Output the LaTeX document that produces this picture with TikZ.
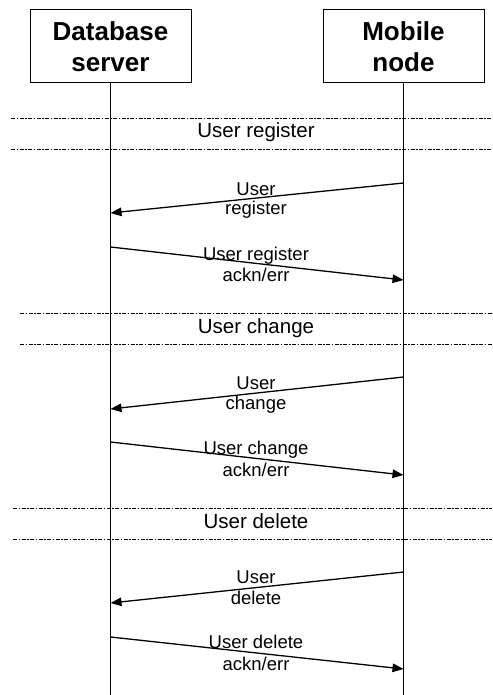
\documentclass[tikz,border=0pt]{standalone}
\usepackage{fontspec}
\setmainfont{Liberation Sans}
\usetikzlibrary{arrows.meta}

\begin{document}
\begin{tikzpicture}[x=1pt,y=-1pt,
  actor/.style={draw,line width=1pt,minimum width=161pt,minimum height=73pt,inner sep=0pt},
  head/.style={font=\fontsize{26}{28}\selectfont\bfseries,anchor=base,inner sep=0pt},
  lifeline/.style={line width=1.3pt},
  sep/.style={line width=0.9pt,dash pattern=on 4pt off 1.5pt on 1.5pt off 1.5pt},
  phase/.style={font=\fontsize{20.5}{22}\selectfont,anchor=base,inner sep=0pt},
  msg/.style={line width=1.3pt,-{Triangle[length=11pt,width=8.5pt]}},
  lbl/.style={font=\fontsize{18.5}{20}\selectfont,anchor=base,inner sep=0pt}]

\useasboundingbox (0,0) rectangle (492,695);

% participants
\node[actor] (db) at (110.5,46.5) {};
\node[actor] (mn) at (403.5,46.5) {};
\node[head] (dbA) at (110.5,41) {Database};
\node[head] (dbB) at (110.5,72) {server};
\node[head] (mnA) at (403.5,41) {Mobile};
\node[head] (mnB) at (403.5,72) {node};

% lifelines
\coordinate (dbEnd) at (110.5,695);
\coordinate (mnEnd) at (403.5,695);
\draw[lifeline] (db.south) -- (dbEnd);
\draw[lifeline] (mn.south) -- (mnEnd);

% phase separators
\coordinate (r1a) at (11,118);  \coordinate (r1b) at (492,118);
\coordinate (r2a) at (11,149);  \coordinate (r2b) at (492,149);
\coordinate (c1a) at (20,313);  \coordinate (c1b) at (492,313);
\coordinate (c2a) at (20,344);  \coordinate (c2b) at (492,344);
\coordinate (d1a) at (13,508);  \coordinate (d1b) at (492,508);
\coordinate (d2a) at (13,539);  \coordinate (d2b) at (492,539);
\draw[sep] (r1a) -- (r1b);
\draw[sep] (r2a) -- (r2b);
\draw[sep] (c1a) -- (c1b);
\draw[sep] (c2a) -- (c2b);
\draw[sep] (d1a) -- (d1b);
\draw[sep] (d2a) -- (d2b);
\node[phase] (pReg) at (256,138) {User register};
\node[phase] (pChg) at (256,333) {User change};
\node[phase] (pDel) at (256,528) {User delete};

% message end points on the lifelines
\coordinate (m1s) at (403.5,183); \coordinate (m1e) at (110.5,213);
\coordinate (m2s) at (110.5,247); \coordinate (m2e) at (403.5,280);
\coordinate (m3s) at (403.5,377); \coordinate (m3e) at (110.5,409);
\coordinate (m4s) at (110.5,442); \coordinate (m4e) at (403.5,475);
\coordinate (m5s) at (403.5,572); \coordinate (m5e) at (110.5,603);
\coordinate (m6s) at (110.5,637); \coordinate (m6e) at (403.5,669);

% messages
\draw[msg] (m1s) -- (m1e);
\draw[msg] (m2s) -- (m2e);
\draw[msg] (m3s) -- (m3e);
\draw[msg] (m4s) -- (m4e);
\draw[msg] (m5s) -- (m5e);
\draw[msg] (m6s) -- (m6e);

% message labels
\node[lbl] (l1a) at (256,195) {User};
\node[lbl] (l1b) at (256,214) {register};
\node[lbl] (l2a) at (256,260) {User register};
\node[lbl] (l2b) at (256,281) {ackn/err};
\node[lbl] (l3a) at (256,389) {User};
\node[lbl] (l3b) at (256,409) {change};
\node[lbl] (l4a) at (256,454) {User change};
\node[lbl] (l4b) at (256,476) {ackn/err};
\node[lbl] (l5a) at (256,583) {User};
\node[lbl] (l5b) at (256,604) {delete};
\node[lbl] (l6a) at (256,648) {User delete};
\node[lbl] (l6b) at (256,670) {ackn/err};
\end{tikzpicture}
\end{document}
